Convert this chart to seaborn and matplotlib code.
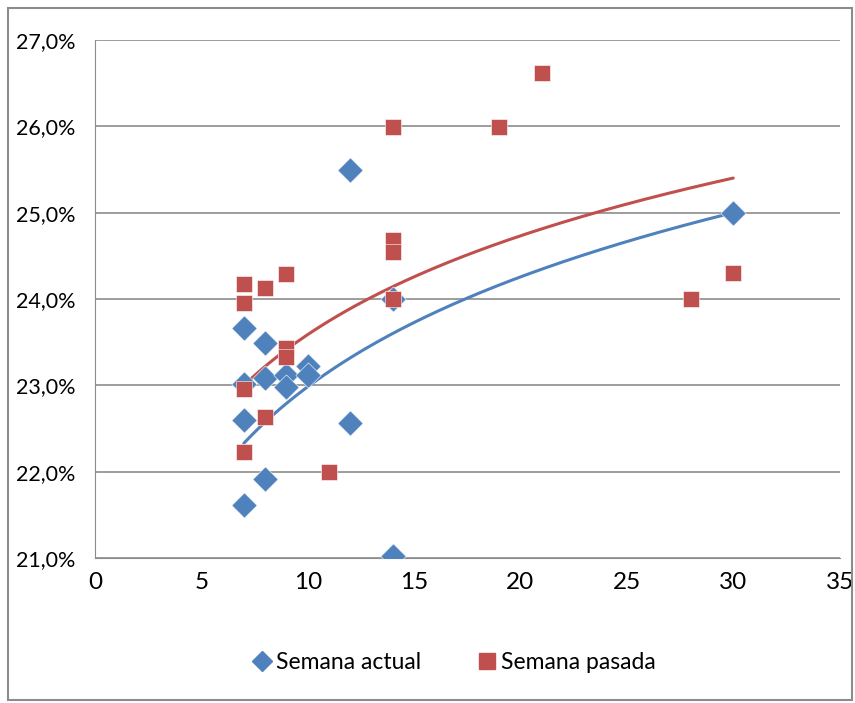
import numpy as np
import pandas as pd
import matplotlib
matplotlib.use('Agg')
import matplotlib.pyplot as plt
import matplotlib.patches as mpatches
from matplotlib.ticker import FuncFormatter
import seaborn as sns

sns.set_style('white')
plt.rcParams['font.family'] = ['Lato', 'DejaVu Sans']
plt.rcParams['text.color'] = 'black'
plt.rcParams['xtick.color'] = 'black'
plt.rcParams['ytick.color'] = 'black'

# data
actual_x = [7, 7, 7, 7, 8, 8, 8, 9, 9, 10, 10, 12, 12, 14, 14, 30]
actual_y = [23.67, 23.02, 22.60, 21.62, 23.49, 23.09, 21.92, 23.12, 22.98,
            23.23, 23.12, 25.50, 22.57, 24.00, 21.02, 25.00]

pasada_x = [7, 7, 7, 7, 8, 8, 9, 9, 9, 11, 14, 14, 14, 14, 19, 21, 28, 30]
pasada_y = [24.18, 23.96, 22.96, 22.23, 24.13, 22.63, 24.29, 23.43, 23.33,
            22.00, 25.99, 24.68, 24.55, 24.00, 25.99, 26.62, 24.00, 24.30]

series = ['Semana actual', 'Semana pasada']
colors = {'Semana actual': '#4F81BD', 'Semana pasada': '#C0504D'}

# logarithmic trendlines as shown (y = a + b*ln x)
trend_a = [18.76, 19.79]
trend_b = [1.835, 1.65]

df = pd.DataFrame({
    'x': actual_x + pasada_x,
    'y': actual_y + pasada_y,
    'serie': [series[0]] * len(actual_x) + [series[1]] * len(pasada_x),
})

fig = plt.figure(figsize=(8.55, 7.03), dpi=100)
ax = fig.add_axes([0.111, 0.206, 0.871, 0.737])

for name, mk, sz in [(series[0], 'D', 165), (series[1], 's', 125)]:
    sub = df[df['serie'] == name]
    sns.scatterplot(data=sub, x='x', y='y', marker=mk, s=sz, color=colors[name],
                    edgecolor='white', linewidth=0.4, ax=ax, legend=False, zorder=3)

for i, name in enumerate(series):
    sub = df[df['serie'] == name]
    xs = np.linspace(sub['x'].min(), sub['x'].max(), 200)
    ax.plot(xs, trend_a[i] + trend_b[i] * np.log(xs), color=colors[name], lw=2.2, zorder=2)

ax.set_xlim(0, 35)
ax.set_ylim(21, 27)
ax.set_xticks(range(0, 36, 5))
ax.set_yticks(range(21, 28))
ax.yaxis.set_major_formatter(FuncFormatter(lambda v, p: f'{v:.1f}%'.replace('.', ',')))
ax.yaxis.grid(True, color='#8c8c8c', lw=1.2)
ax.set_axisbelow(True)
ax.set_xlabel('')
ax.set_ylabel('')

for s in ['top', 'right']:
    ax.spines[s].set_visible(False)
ax.spines['left'].set_color('#8c8c8c')
ax.spines['bottom'].set_color('#8c8c8c')
ax.tick_params(axis='both', direction='out', length=6, color='#8c8c8c', width=1)
ax.tick_params(axis='y', labelsize=15.5, pad=8)
ax.tick_params(axis='x', labelsize=17.5, pad=4)

handles = [plt.Line2D([], [], marker='D', ls='', color=colors[series[0]], markersize=10),
           plt.Line2D([], [], marker='s', ls='', color=colors[series[1]], markersize=11)]
fig.legend(handles, series, loc='center', bbox_to_anchor=(0.53, 0.057), ncol=2,
           frameon=False, fontsize=16.5, handletextpad=0.1, columnspacing=2.4,
           handlelength=1.0)

fig.patches.append(mpatches.Rectangle((0.009, 0.004), 0.988, 0.984, transform=fig.transFigure,
                                      fill=False, edgecolor='#8c8c8c', lw=1.5))

fig.savefig('out.png', dpi=100)
